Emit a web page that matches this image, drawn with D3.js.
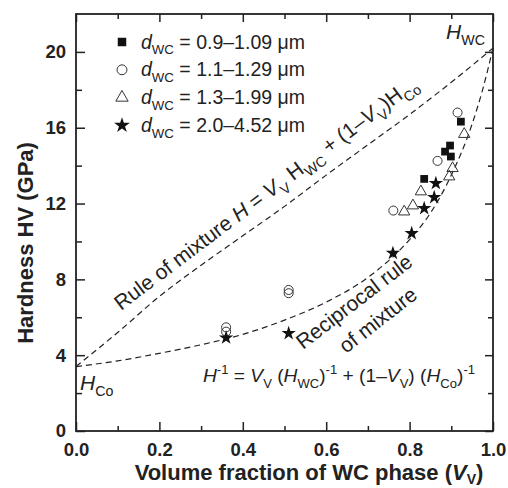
<!DOCTYPE html>
<html>
<head>
<meta charset="utf-8">
<script src="https://cdn.jsdelivr.net/npm/d3@7"></script>
<style>
  body { margin: 0; background: #fff; }
  svg { font-family: "Liberation Sans", Arial, Helvetica, sans-serif; }
</style>
</head>
<body>
<script>
// data
var squareV = [0.923, 0.897, 0.885, 0.899, 0.835];
var squareH = [16.32, 15.06, 14.74, 14.48, 13.3];
var circleV = [0.915, 0.867, 0.761, 0.36, 0.36, 0.51, 0.51];
var circleH = [16.8, 14.25, 11.63, 5.47, 5.24, 7.44, 7.27];
var triangleV = [0.931, 0.903, 0.895, 0.827, 0.808, 0.787];
var triangleH = [15.66, 13.86, 13.42, 12.63, 11.89, 11.57];
var starV = [0.863, 0.859, 0.835, 0.805, 0.760, 0.36, 0.51];
var starH = [13.07, 12.33, 11.75, 10.43, 9.38, 4.92, 5.15];

// dashed model curves
var mixV = [0, 0.1, 0.2, 0.3, 0.4, 0.5, 0.6, 0.7, 0.8, 0.9, 1.0];
var mixH = [3.4, 5.2, 7.1, 8.75, 10.3, 11.85, 13.5, 15.1, 16.7, 18.4, 20.2];
var recV = [0, 0.1, 0.2, 0.3, 0.4, 0.5, 0.6, 0.7, 0.8, 0.85, 0.9, 0.95, 0.975, 1.0];
var recH = [3.4, 3.7, 4.1, 4.55, 5.1, 5.85, 6.8, 8.1, 10.1, 11.5, 13.5, 16.2, 18.0, 20.2];

var legendLabels = ["0.9\u20131.09", "1.1\u20131.29", "1.3\u20131.99", "2.0\u20134.52"];
var xMajor = [0, 0.2, 0.4, 0.6, 0.8, 1.0];
var xMinor = [0.1, 0.3, 0.5, 0.7, 0.9];
var yMajor = [0, 4, 8, 12, 16, 20];
var yMinor = [2, 6, 10, 14, 18];

var width = 508, height = 488;
var margin = {top: 14, right: 15, bottom: 57, left: 76};
var ink = "#222";

var svg = d3.select("body").append("svg")
    .attr("width", width)
    .attr("height", height);

var x = d3.scaleLinear().domain([0, 1]).range([margin.left, width - margin.right]);
var y = d3.scaleLinear().domain([0, 22]).range([height - margin.bottom, margin.top]);

function zip(a, b) {
    return a.map(function (v, i) { return [v, b[i]]; });
}

// text with italic / sub / sup parts
function richText(sel, parts, size) {
    var t = sel.append("text").attr("font-size", size).attr("fill", ink);
    var shift = 0;
    parts.forEach(function (p) {
        var s = t.append("tspan").text(p.t);
        var want = p.sub ? size * 0.3 : (p.sup ? -size * 0.4 : 0);
        if (want !== shift) { s.attr("dy", want - shift); shift = want; }
        if (p.sub || p.sup) s.attr("font-size", size * 0.68);
        if (p.i) s.attr("font-style", "italic");
    });
    return t;
}

// curves
var line = d3.line()
    .x(function (d) { return x(d[0]); })
    .y(function (d) { return y(d[1]); })
    .curve(d3.curveMonotoneX);

[zip(mixV, mixH), zip(recV, recH)].forEach(function (pts) {
    svg.append("path")
        .attr("d", line(pts))
        .attr("fill", "none")
        .attr("stroke", ink)
        .attr("stroke-width", 1.2)
        .attr("stroke-dasharray", "6,4");
});

// axes
function drawAxis(axisFn, scale, values, size, labels, transform) {
    var a = axisFn(scale).tickValues(values).tickSize(-size);
    if (labels) a.tickFormat(labels).tickPadding(12); else a.tickFormat("");
    var g = svg.append("g").attr("transform", transform).call(a);
    g.select(".domain").remove();
    g.selectAll("line").attr("stroke", ink).attr("stroke-width", 1.5);
    g.selectAll("text")
        .attr("font-size", 18.5)
        .attr("font-weight", "bold")
        .attr("fill", ink)
        .attr("font-family", "Liberation Sans, Arial, sans-serif");
    return g;
}
var bottomY = height - margin.bottom, rightX = width - margin.right;
drawAxis(d3.axisBottom, x, xMajor, 9, d3.format(".1f"), "translate(0," + bottomY + ")");
drawAxis(d3.axisBottom, x, xMinor, 5, null, "translate(0," + bottomY + ")");
drawAxis(d3.axisTop, x, xMajor, 8, null, "translate(0," + margin.top + ")");
drawAxis(d3.axisTop, x, xMinor, 5, null, "translate(0," + margin.top + ")");
drawAxis(d3.axisLeft, y, yMajor, 9, d3.format("d"), "translate(" + margin.left + ",0)")
    .selectAll("text").attr("dx", 2);
drawAxis(d3.axisLeft, y, yMinor, 6, null, "translate(" + margin.left + ",0)");
drawAxis(d3.axisRight, y, yMajor, 8, null, "translate(" + rightX + ",0)");
drawAxis(d3.axisRight, y, yMinor, 5, null, "translate(" + rightX + ",0)");

svg.append("rect")
    .attr("x", margin.left).attr("y", margin.top)
    .attr("width", rightX - margin.left).attr("height", bottomY - margin.top)
    .attr("fill", "none").attr("stroke", ink).attr("stroke-width", 1.8);

// markers
var series = [
    {v: squareV, h: squareH, type: d3.symbolSquare, size: 60, fill: "#111", stroke: "none"},
    {v: circleV, h: circleH, type: d3.symbolCircle, size: 64, fill: "#fff", stroke: "#333"},
    {v: triangleV, h: triangleH, type: d3.symbolTriangle, size: 55, fill: "#fff", stroke: "#333"},
    {v: starV, h: starH, type: d3.symbolStar, size: 64, fill: "#111", stroke: "none"}
];

series.forEach(function (s) {
    svg.append("g").selectAll("path")
        .data(zip(s.v, s.h))
        .join("path")
        .attr("transform", function (d) { return "translate(" + x(d[0]) + "," + y(d[1]) + ")"; })
        .attr("d", d3.symbol().type(s.type).size(s.size))
        .attr("fill", s.fill)
        .attr("fill-opacity", s.fill === "#fff" ? 0 : 1)
        .attr("stroke", s.stroke)
        .attr("stroke-width", 1);
});

// legend
var legend = svg.append("g");
series.forEach(function (s, i) {
    var cy = 42 + i * 27.8;
    legend.append("path")
        .attr("transform", "translate(122," + cy + ")")
        .attr("d", d3.symbol().type(s.type).size(s.size * 1.2))
        .attr("fill", s.fill)
        .attr("stroke", s.stroke)
        .attr("stroke-width", 1);
    richText(legend, [
        {t: "d", i: true}, {t: "WC", sub: true}, {t: " = " + legendLabels[i] + " \u03bcm"}
    ], 19.5).attr("x", 141).attr("y", cy + 6.5);
});

// axis titles
svg.append("text")
    .attr("x", 309).attr("y", 480)
    .attr("text-anchor", "middle")
    .attr("font-size", 22).attr("font-weight", "bold").attr("fill", ink)
    .call(function (t) {
        t.append("tspan").text("Volume fraction of WC phase (");
        t.append("tspan").text("V").attr("font-style", "italic");
        t.append("tspan").text("V").attr("font-size", 14).attr("dy", 4);
        t.append("tspan").text(")").attr("dy", -4);
    });

svg.append("text")
    .attr("transform", "translate(33,243) rotate(-90)")
    .attr("text-anchor", "middle")
    .attr("font-size", 22).attr("font-weight", "bold").attr("fill", ink)
    .text("Hardness HV (GPa)");

// annotations
richText(svg, [{t: "H", i: true}, {t: "WC", sub: true}], 21).attr("x", 446).attr("y", 39);
richText(svg, [{t: "H", i: true}, {t: "Co", sub: true}], 21).attr("x", 80).attr("y", 390);

richText(svg, [
    {t: "Rule of mixture "}, {t: "H", i: true}, {t: " = "}, {t: "V", i: true}, {t: "V", sub: true},
    {t: " H"}, {t: "WC", sub: true}, {t: " + (1\u2013"}, {t: "V", i: true}, {t: "V", sub: true},
    {t: ")H"}, {t: "Co", sub: true}
], 21).attr("transform", "translate(121,311) rotate(-37)");

svg.append("text")
    .attr("transform", "translate(303,350) rotate(-37.5)")
    .attr("font-size", 21).attr("fill", ink)
    .text("Reciprocal rule");
svg.append("text")
    .attr("transform", "translate(346,354) rotate(-38)")
    .attr("font-size", 21).attr("fill", ink)
    .text("of mixture");

richText(svg, [
    {t: "H", i: true}, {t: "-1", sup: true}, {t: " = "}, {t: "V", i: true}, {t: "V", sub: true},
    {t: " ("}, {t: "H", i: true}, {t: "WC", sub: true}, {t: ")"}, {t: "-1", sup: true},
    {t: " + (1\u2013"}, {t: "V", i: true}, {t: "V", sub: true}, {t: ") ("}, {t: "H", i: true},
    {t: "Co", sub: true}, {t: ")"}, {t: "-1", sup: true}
], 19.2).attr("x", 203).attr("y", 382);
</script>
</body>
</html>
